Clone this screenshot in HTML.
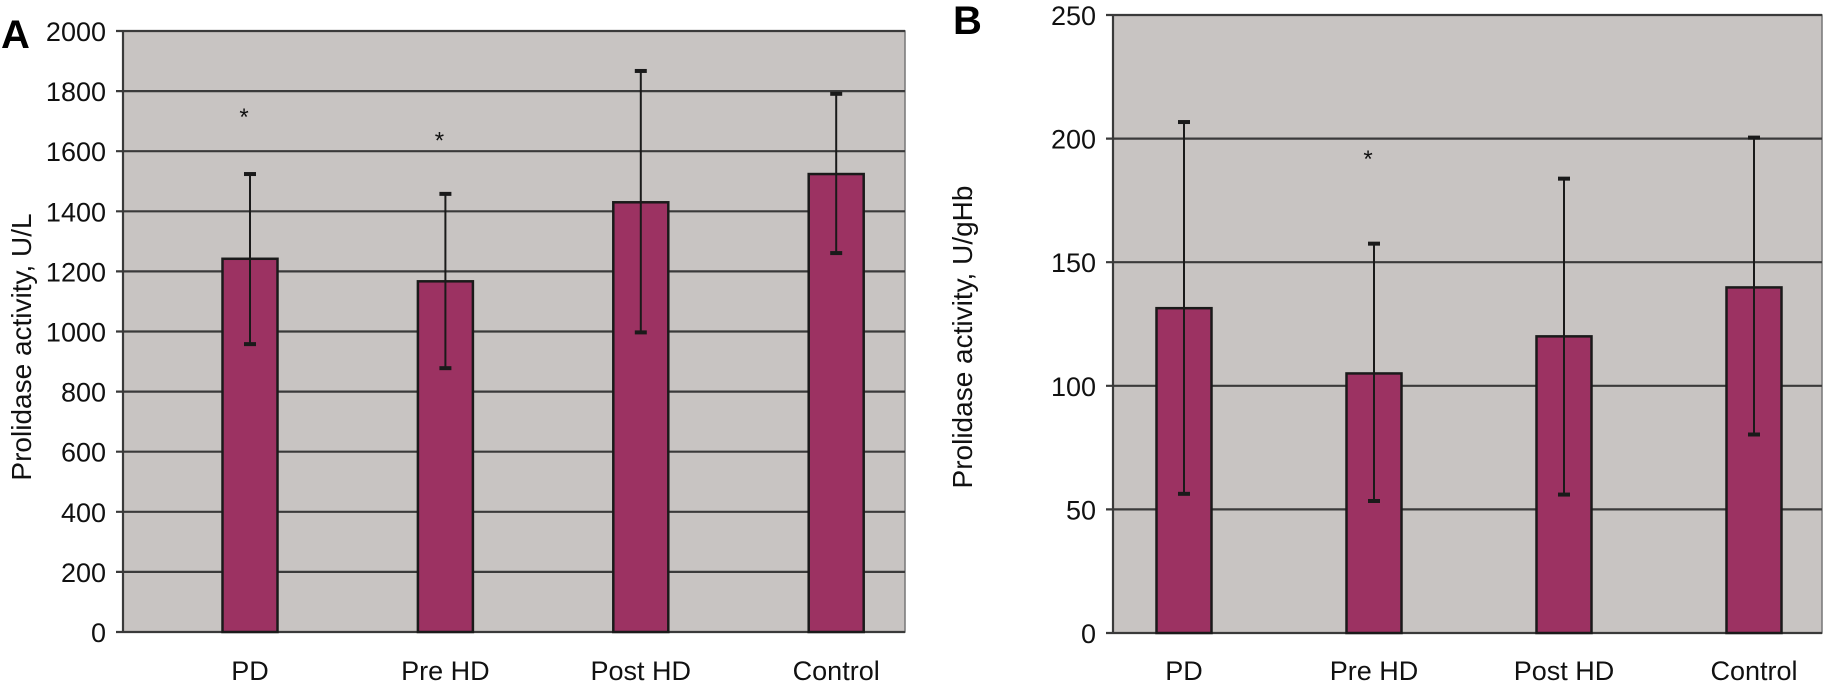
<!DOCTYPE html>
<html><head><meta charset="utf-8"><style>
html,body{margin:0;padding:0;background:#fff;}
svg{display:block;font-family:"Liberation Sans",Arial,sans-serif;}
</style></head><body>
<svg id="chart" width="1826" height="691" viewBox="0 0 1826 691">
</svg>
<script>
// Panel A data
const categoriesA = ["PD", "Pre HD", "Post HD", "Control"];
const valuesA = [1242, 1167, 1430, 1524];
const errHighA = [1524, 1458, 1867, 1791];
const errLowA = [958, 878, 997, 1261];
const ticksA = [0, 200, 400, 600, 800, 1000, 1200, 1400, 1600, 1800, 2000];
const starsA = [1731, 1652, null, null];
// Panel B data
const categoriesB = ["PD", "Pre HD", "Post HD", "Control"];
const valuesB = [131.4, 105, 120, 139.8];
const errHighB = [206.7, 157.5, 183.8, 200.4];
const errLowB = [56.3, 53.4, 56, 80.3];
const ticksB = [0, 50, 100, 150, 200, 250];
const starsB = [null, 193.7, null, null];

const NS = "http://www.w3.org/2000/svg";
const svg = document.getElementById("chart");
function mk(tag, attrs, parent) {
  const e = document.createElementNS(NS, tag);
  for (const k in attrs) e.setAttribute(k, attrs[k]);
  (parent || svg).appendChild(e);
  return e;
}

function panel(cfg) {
  const g = mk("g", {});
  
  
  const y = v => cfg.y0 - (v - cfg.min) / (cfg.max - cfg.min) * (cfg.y0 - cfg.y1);
  const x = i => cfg.firstCenter + i * cfg.step;
  const bg = mk("rect", {x: cfg.left, y: cfg.y1, width: cfg.right - cfg.left, height: cfg.y0 - cfg.y1, fill: "#c8c4c2", stroke: "#777", "stroke-width": 1.5}, g);
  
  
  cfg.ticks.forEach(t => {
    const gl = mk("line", {x1: cfg.left - 7, x2: cfg.right, y1: y(t), y2: y(t), stroke: "#3a3a3a", "stroke-width": 2.2}, g);
    
    
    const tl = mk("text", {x: cfg.left - 17, y: y(t) + 10, "text-anchor": "end", "font-size": 27, fill: "#111"}, g);
    tl.textContent = t;
    
    
  });
  const ax = mk("line", {x1: cfg.left, x2: cfg.left, y1: cfg.y1, y2: cfg.y0, stroke: "#3a3a3a", "stroke-width": 2.2}, g);
  
  
  cfg.cats.forEach((c, i) => {
    const cx = x(i);
    const b = mk("rect", {x: cx - cfg.bw / 2, y: y(cfg.vals[i]), width: cfg.bw, height: cfg.y0 - y(cfg.vals[i]), fill: "#9c3262", stroke: "#1a1a1a", "stroke-width": 2.5}, g);
    
    
    const e = mk("line", {x1: cx, x2: cx, y1: y(cfg.hi[i]), y2: y(cfg.lo[i]), stroke: "#1a1a1a", "stroke-width": 2}, g);
    
    
    [cfg.hi[i], cfg.lo[i]].forEach(v => {
      const cap = mk("line", {x1: cx - 6, x2: cx + 6, y1: y(v), y2: y(v), stroke: "#1a1a1a", "stroke-width": 4}, g);
      
      
    });
    if (cfg.stars[i] !== null) {
      const s = mk("text", {x: cx - 6, y: y(cfg.stars[i]) + 13, "text-anchor": "middle", "font-size": 24, fill: "#111"}, g);
      s.textContent = "*";
      
      
    }
    const xl = mk("text", {x: cx, y: 680, "text-anchor": "middle", "font-size": 27, fill: "#111"}, g);
    xl.textContent = c;
    
    
  });
  const yt = mk("text", {x: 0, y: 0, "text-anchor": "middle", "font-size": 28, fill: "#111", transform: `translate(${cfg.titleX},${cfg.titleY}) rotate(-90)`}, g);
  yt.textContent = cfg.title;
  
  
  const pl = mk("text", {x: cfg.letterX, y: cfg.letterY, "font-size": 40, "font-weight": "bold", fill: "#000"}, g);
  pl.textContent = cfg.letter;
  
  
}

panel({name: "panel-a", left: 123, right: 905, y0: 632, y1: 31, min: 0, max: 2000,
  firstCenter: 250, step: 195.4, bw: 55, cats: categoriesA, vals: valuesA, hi: errHighA, lo: errLowA,
  ticks: ticksA, stars: starsA, title: "Prolidase activity, U/L", titleX: 31, titleY: 347, letter: "A", letterX: 1, letterY: 48});
panel({name: "panel-b", left: 1113, right: 1822, y0: 633, y1: 15, min: 0, max: 250,
  firstCenter: 1184, step: 190, bw: 55, cats: categoriesB, vals: valuesB, hi: errHighB, lo: errLowB,
  ticks: ticksB, stars: starsB, title: "Prolidase activity, U/gHb", titleX: 972, titleY: 337, letter: "B", letterX: 953, letterY: 34});
</script>
</body></html>
